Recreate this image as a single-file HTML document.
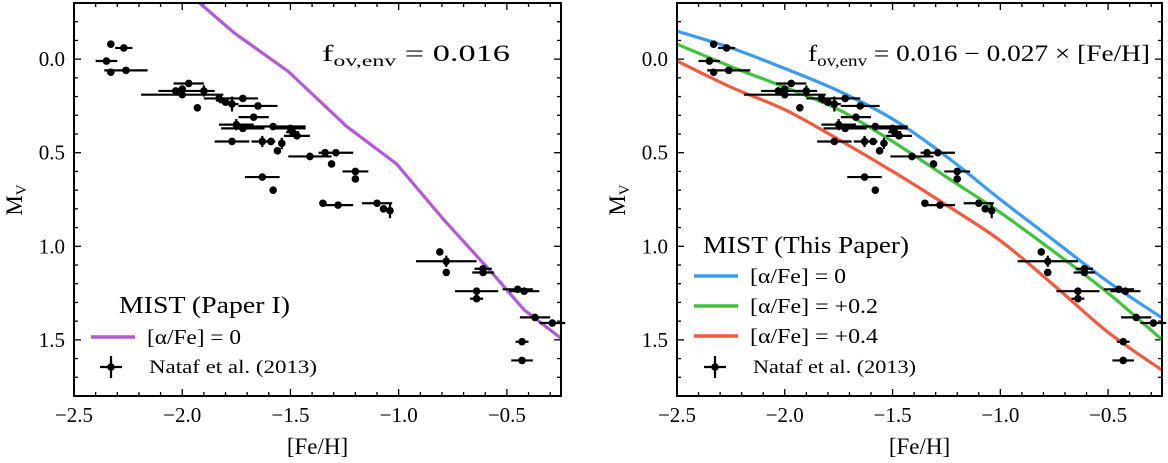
<!DOCTYPE html>
<html><head><meta charset="utf-8"><style>
html,body{margin:0;padding:0;background:#fff;}
svg{display:block;font-family:"Liberation Serif","DejaVu Serif",serif;}
</style></head><body>
<svg id="chart" width="1168" height="463" viewBox="0 0 1168 463" xmlns="http://www.w3.org/2000/svg"></svg>
<script>
// ---- data ----
const obsFeh  = [-2.33,-2.27,-2.35,-2.33,-2.26,-2.03,-2.0,-1.97,-2.0,-1.9,-1.93,-1.83,-1.8,-1.77,-1.72,-1.65,-1.67,-1.75,-1.72,-1.58,-1.5,-1.47,-1.49,-1.77,-1.63,-1.59,-1.54,-1.56,-1.41,-1.34,-1.29,-1.31,-1.2,-1.2,-1.63,-1.58,-1.35,-1.28,-1.1,-1.07,-1.04,-0.81,-0.78,-0.78,-0.61,-0.61,-0.64,-0.64,-0.45,-0.42,-0.37,-0.29,-0.43,-0.43];
const obsMv   = [-0.08,-0.06,0.01,0.07,0.06,0.17,0.19,0.13,0.16,0.17,0.26,0.21,0.23,0.24,0.21,0.25,0.31,0.35,0.37,0.36,0.37,0.41,0.39,0.44,0.44,0.44,0.45,0.49,0.52,0.50,0.50,0.56,0.60,0.64,0.63,0.70,0.77,0.78,0.77,0.80,0.81,1.03,1.08,1.14,1.12,1.14,1.24,1.28,1.23,1.24,1.38,1.41,1.51,1.61];
const obsXerr = [0.0,0.04,0.05,0.0,0.10,0.08,0.19,0.07,0.0,0.05,0.0,0.07,0.03,0.03,0.07,0.09,0.07,0.08,0.10,0.15,0.07,0.06,0.03,0.08,0.05,0.02,0.0,0.0,0.10,0.0,0.08,0.0,0.06,0.0,0.08,0.0,0.0,0.07,0.07,0.0,0.0,0.0,0.14,0.0,0.04,0.05,0.10,0.03,0.07,0.07,0.07,0.06,0.03,0.05];
const obsYerr = [0,0,0,0,0,0,0,0,0,0.03,0,0,0,0.04,0,0,0,0.03,0,0,0,0,0,0,0.03,0,0.03,0,0.02,0,0,0,0,0,0,0,0,0,0,0,0.04,0,0.03,0,0,0,0,0,0,0,0,0,0,0];
const paperIFeh = [-1.92,-1.76,-1.51,-1.24,-1.01,-0.79,-0.57,-0.42,-0.24];
const paperIMv  = [-0.30,-0.14,0.066,0.36,0.56,0.86,1.14,1.34,1.50];
const newFeh    = [-2.5,-2.25,-2.0,-1.75,-1.5,-1.25,-1.0,-0.75,-0.5,-0.24];
const alpha0Mv  = [-0.15,-0.06,0.05,0.17,0.32,0.52,0.75,0.97,1.19,1.39];
const alpha2Mv  = [-0.08,0.04,0.15,0.27,0.44,0.63,0.82,1.03,1.25,1.51];
const alpha4Mv  = [0.01,0.15,0.27,0.43,0.60,0.78,0.97,1.21,1.46,1.67];
const xTicks = [-2.5,-2.0,-1.5,-1.0,-0.5];
const xTickLabels = ["\u22122.5","\u22122.0","\u22121.5","\u22121.0","\u22120.5"];
const yTicks = [0.0,0.5,1.0,1.5];
const yTickLabels = ["0.0","0.5","1.0","1.5"];

const NS="http://www.w3.org/2000/svg";
const svg=document.getElementById('chart');
function mk(tag,attrs,parent){const e=document.createElementNS(NS,tag);for(const k in attrs)e.setAttribute(k,attrs[k]);(parent||svg).appendChild(e);return e;}

const X0=-2.5,X1=-0.25,Y0=-0.3,Y1=1.8,TOP=3,BOT=396;
function panel(left,right,name){
  const g=mk('g',{});
  
  
  const sx=v=>left+(v-X0)/(X1-X0)*(right-left);
  const sy=v=>TOP+(v-Y0)/(Y1-Y0)*(BOT-TOP);
  return {g,sx,sy,left,right};
}
function axes(p){
  const {g,sx,sy,left,right}=p;
  const tg=mk('g',{stroke:'#000','stroke-width':1.3},g);
  
  
  for(let i=-25;i<=-3;i++){const v=i/10;const x=sx(v);const L=(i%5===0)?7:4;
    mk('line',{x1:x,x2:x,y1:BOT,y2:BOT-L},tg);mk('line',{x1:x,x2:x,y1:TOP,y2:TOP+L},tg);}
  for(let i=-3;i<=18;i++){const v=i/10;const y=sy(v);const L=(i%5===0)?7:4;
    mk('line',{x1:left,x2:left+L,y1:y,y2:y},tg);mk('line',{x1:right,x2:right-L,y1:y,y2:y},tg);}
  xTicks.forEach((v,i)=>{const t=mk('text',{x:sx(v),y:422,'font-size':21,'text-anchor':'middle'},g);t.textContent=xTickLabels[i];
    });
  yTicks.forEach((v,i)=>{const t=mk('text',{x:left-9,y:sy(v)+7,'font-size':21,'text-anchor':'end'},g);t.textContent=yTickLabels[i];
    });
  const xt=mk('text',{x:(left+right)/2,y:454,'font-size':23,'text-anchor':'middle'},g);xt.textContent='[Fe/H]';
  
  const yt=mk('text',{x:0,y:0,'font-size':23,'text-anchor':'middle',transform:`translate(${left-52},200) rotate(-90)`},g);
  yt.innerHTML='M<tspan font-size="15" dy="4">V</tspan>';
  
}
function frame(p){
  const r=mk('rect',{x:p.left,y:TOP,width:p.right-p.left,height:BOT-TOP,fill:'none',stroke:'#000','stroke-width':2},p.g);
  
}
function curve(p,xs,ys,color,name,smooth){
  const cp='clip'+name;
  const c=mk('clipPath',{id:cp},p.g);mk('rect',{x:p.left,y:TOP,width:p.right-p.left,height:BOT-TOP},c);
  const P=xs.map((v,i)=>[p.sx(v),p.sy(ys[i])]);
  let d='M'+P[0][0].toFixed(1)+','+P[0][1].toFixed(1);
  for(let i=1;i<P.length;i++){
    if(!smooth){d+=' L'+P[i][0].toFixed(1)+','+P[i][1].toFixed(1);continue;}
    const p0=P[Math.max(0,i-2)],p1=P[i-1],p2=P[i],p3=P[Math.min(P.length-1,i+1)];
    const c1=[p1[0]+(p2[0]-p0[0])/6,p1[1]+(p2[1]-p0[1])/6];
    const c2=[p2[0]-(p3[0]-p1[0])/6,p2[1]-(p3[1]-p1[1])/6];
    d+=` C${c1[0].toFixed(1)},${c1[1].toFixed(1)} ${c2[0].toFixed(1)},${c2[1].toFixed(1)} ${p2[0].toFixed(1)},${p2[1].toFixed(1)}`;
  }
  const path=mk('path',{d,fill:'none',stroke:color,'stroke-width':3.2,'stroke-linejoin':'round','clip-path':`url(#${cp})`},p.g);
  
}
function points(p){
  const g=mk('g',{},p.g);
  
  obsFeh.forEach((f,i)=>{
    const x=p.sx(f),y=p.sy(obsMv[i]);
    const pt=mk('g',{},g);
    
    if(obsXerr[i]>0)mk('line',{x1:p.sx(f-obsXerr[i]),x2:p.sx(f+obsXerr[i]),y1:y,y2:y,stroke:'#000','stroke-width':2.2},pt);
    if(obsYerr[i]>0)mk('line',{x1:x,x2:x,y1:p.sy(obsMv[i]-obsYerr[i]),y2:p.sy(obsMv[i]+obsYerr[i]),stroke:'#000','stroke-width':2.2},pt);
    mk('circle',{cx:x,cy:y,r:3.8,fill:'#000'},pt);
  });
}
function legLine(g,x,y,color,label,w){
  const e=mk('g',{},g);
  
  mk('line',{x1:x,x2:x+44,y1:y,y2:y,stroke:color,'stroke-width':3.5},e);
  const t=mk('text',{x:x+56,y:y+7,'font-size':21,textLength:w,lengthAdjust:'spacingAndGlyphs'},e);t.textContent=label;
}
function legMarker(g,x,y,w){
  const e=mk('g',{},g);
  
  mk('line',{x1:x-11,x2:x+11,y1:y,y2:y,stroke:'#000','stroke-width':2.2},e);
  mk('line',{x1:x,x2:x,y1:y-11,y2:y+11,stroke:'#000','stroke-width':2.2},e);
  mk('circle',{cx:x,cy:y,r:3.8},e);
  const t=mk('text',{x:x+38,y:y+6,'font-size':19,textLength:w,lengthAdjust:'spacingAndGlyphs'},e);t.textContent='Nataf et al. (2013)';
}
function annot(g,x,y,tail,w){
  const t=mk('text',{x:x,y:y,'font-size':23,textLength:w,lengthAdjust:'spacingAndGlyphs'},g);
  t.innerHTML='f<tspan font-size="16" dy="5">ov,env</tspan><tspan dy="-5"> = 0.016'+tail+'</tspan>';
  
}

// left panel
const L=panel(74,561,'left-panel');
axes(L);
curve(L,paperIFeh,paperIMv,'#b459d6','paper1-alpha0-line',false);
points(L);
annot(L.g,322,61,'',188);
const lg=mk('g',{},L.g);
const lt=mk('text',{x:119,y:313,'font-size':24,textLength:171,lengthAdjust:'spacingAndGlyphs'},lg);lt.textContent='MIST (Paper I)';
legLine(lg,91,337,'#b459d6','[\u03b1/Fe] = 0',94);
legMarker(lg,111,367,168);
frame(L);

// right panel
const R=panel(677,1162,'right-panel');
axes(R);
curve(R,newFeh,alpha0Mv,'#3a9bf2','alpha0-line',true);
curve(R,newFeh,alpha2Mv,'#3ec43c','alpha02-line',true);
curve(R,newFeh,alpha4Mv,'#f6593f','alpha04-line',true);
points(R);
annot(R.g,808,61,' \u2212 0.027 \u00d7 [Fe/H]',342);
const rg=mk('g',{},R.g);
const rt=mk('text',{x:703,y:253,'font-size':24,textLength:206,lengthAdjust:'spacingAndGlyphs'},rg);rt.textContent='MIST (This Paper)';
legLine(rg,694,276,'#3a9bf2','[\u03b1/Fe] = 0',96);
legLine(rg,694,306,'#3ec43c','[\u03b1/Fe] = +0.2',128);
legLine(rg,694,336,'#f6593f','[\u03b1/Fe] = +0.4',128);
legMarker(rg,715,367,163);
frame(R);
</script>
</body></html>
